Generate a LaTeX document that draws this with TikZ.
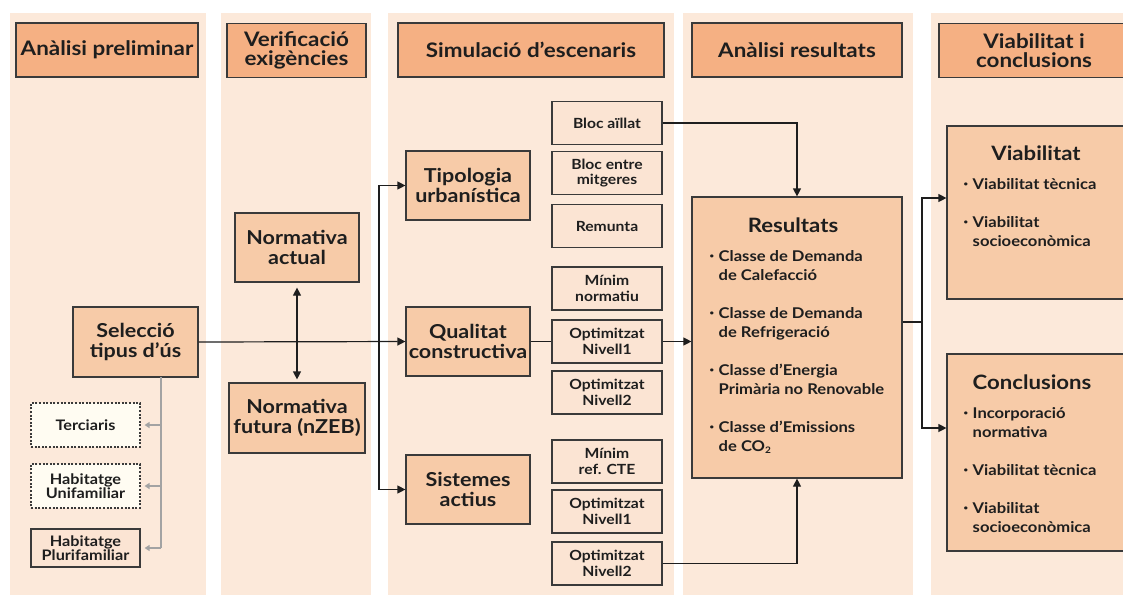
\documentclass[tikz,border=0pt]{standalone}
\usepackage{fontspec}
\setmainfont{Lato}[FakeStretch=1.12]
\usetikzlibrary{arrows.meta}
\definecolor{bgc}{HTML}{FCE9DA}
\definecolor{hdrc}{HTML}{F5B083}
\definecolor{mainc}{HTML}{F7CBA8}
\definecolor{subc}{HTML}{FBE4D3}
\definecolor{creamc}{HTML}{FFFCF2}
\definecolor{edgec}{HTML}{3A3A3A}
\definecolor{inkc}{HTML}{1E1E1E}
\definecolor{grayc}{HTML}{A3A3A3}
\newcommand\blt{\makebox[9pt][l]{\raisebox{2.4pt}{\fontsize{7}{7}\selectfont\textbullet}}}
\newcommand\bind{\hspace*{9pt}}
\begin{document}
\begin{tikzpicture}[x=1pt,y=-1pt,
  box/.style={draw=edgec, line width=1.2pt, text=inkc, align=center, inner sep=0pt},
  hdrbox/.style={box, fill=hdrc, minimum height=54pt, font=\bfseries\fontsize{20}{19}\selectfont},
  mainbox/.style={box, fill=mainc, minimum height=69pt, font=\bfseries\fontsize{19.2}{19.5}\selectfont},
  subbox/.style={box, fill=subc, minimum width=110pt, minimum height=43pt, font=\bfseries\fontsize{14}{15.5}\selectfont},
  usebox/.style={box, minimum width=109pt, font=\bfseries\fontsize{14.5}{12.5}\selectfont},
  dotbox/.style={usebox, fill=creamc, dash pattern=on 2pt off 1.6pt, line width=1.1pt, minimum height=44pt},
  titletext/.style={text=inkc, inner sep=0pt, font=\bfseries\fontsize{19.8}{19}\selectfont},
  listtext/.style={text=inkc, inner sep=0pt, align=left, anchor=north west, font=\bfseries\fontsize{14.8}{19}\selectfont},
  conn/.style={draw=inkc, line width=1.2pt},
  arr/.style={conn, -{Triangle[length=8pt,width=8pt]}},
  darr/.style={conn, {Triangle[length=8pt,width=8pt]}-{Triangle[length=8pt,width=8pt]}},
  garr/.style={draw=grayc, line width=1.6pt, -{Triangle[length=5pt,width=6pt]}, shorten >=4pt},
  gline/.style={draw=grayc, line width=1.6pt}
]
\useasboundingbox (0,0) rectangle (1123,595);
\clip (0,0) rectangle (1123,595);
% column backgrounds
\fill[bgc] (10,13) rectangle (206,595);
\fill[bgc] (221,13) rectangle (371,595);
\fill[bgc] (388,13) rectangle (674,595);
\fill[bgc] (683,13) rectangle (913,595);
\fill[bgc] (931,13) rectangle (1130,595);
% headers
\node[hdrbox, minimum width=182pt] (h1) at (107,50) {Anàlisi preliminar};
\node[hdrbox, minimum width=139pt] (h2) at (296.5,50.5) {Verificació\\exigències};
\node[hdrbox, minimum width=266pt] (h3) at (531,50) {Simulació d’escenaris};
\node[hdrbox, minimum width=210pt] (h4) at (797,50) {Anàlisi resultats};
\node[hdrbox, minimum width=190pt] (h5) at (1034,50.5) {Viabilitat i\\conclusions};
% column 1
\node[mainbox, minimum width=125pt, minimum height=70pt] (sel) at (135.5,342) {Selecció\\tipus d’ús};
\node[dotbox] (terc) at (85.5,425) {Terciaris};
\node[dotbox] (unif) at (85.5,486) {Habitatge\\Unifamiliar};
\node[usebox, fill=subc, minimum height=38pt] (pluri) at (85.5,548) {Habitatge\\Plurifamiliar};
\coordinate (gtop) at (161,377);
\draw[gline] (gtop) -- (gtop |- pluri.east);
\draw[garr] (gtop |- terc.east) -- (terc.east);
\draw[garr] (gtop |- unif.east) -- (unif.east);
\draw[garr] (gtop |- pluri.east) -- (pluri.east);
% column 2
\node[mainbox, minimum width=124pt] (nact) at (297,247.5) {Normativa\\actual};
\node[mainbox, minimum width=136pt, minimum height=70pt] (nfut) at (297,418) {Normativa\\futura (nZEB)};
\draw[darr, shorten <=5pt, shorten >=3pt] (nact.south) -- (nfut.north);
% column 3
\node[mainbox, minimum width=124pt] (tip) at (468,185.5) {Tipologia\\urbanística};
\node[mainbox, minimum width=124pt] (qual) at (468,341.5) {Qualitat\\constructiva};
\node[mainbox, minimum width=124pt] (sist) at (468,489.5) {Sistemes\\actius};
\node[subbox] (s1) at (607,123) {Bloc aïllat};
\node[subbox] (s2) at (607,173) {Bloc entre\\mitgeres};
\node[subbox] (s3) at (607,226) {Remunta};
\node[subbox] (s4) at (607,288.5) {Mínim\\normatiu};
\node[subbox] (s5) at (607,341.5) {Optimitzat\\Nivell1};
\node[subbox] (s6) at (607,392.5) {Optimitzat\\Nivell2};
\node[subbox] (s7) at (607,461.5) {Mínim\\ref. CTE};
\node[subbox] (s8) at (607,511.5) {Optimitzat\\Nivell1};
\node[subbox] (s9) at (607,563.5) {Optimitzat\\Nivell2};
% connectors column 1-3
\draw[arr] (sel.east) -- (qual.west);
\coordinate (br) at (379,342);
\draw[arr] (br) |- (tip.west);
\draw[arr] (br) |- (sist.west);
\draw[conn] (qual.east) -- (s5.west);
% column 4
\node[box, fill=mainc, minimum width=210pt, minimum height=281pt] (res) at (797,337.5) {};
\node[titletext] (resT) at (793,225) {Resultats};
\node[listtext] (resL) at (709.5,250) {\blt Classe de Demanda\\\bind de Calefacció\\[19pt]%
\blt Classe de Demanda\\\bind de Refrigeració\\[19pt]%
\blt Classe d’Energia\\\bind Primària no Renovable\\[19pt]%
\blt Classe d’Emissions\\\bind de CO\textsubscript{\fontsize{9}{9}\selectfont 2}};
\draw[arr] (s5.east) -- (s5.east -| res.west);
\draw[arr] (s1.east) -| (res.north);
\draw[arr] (s9.east) -| (res.south);
% column 5
\node[box, fill=mainc, minimum width=180pt, minimum height=173pt] (via) at (1037,212.5) {};
\node[titletext] (viaT) at (1036,153) {Viabilitat};
\node[listtext] (viaL) at (963.5,178) {\blt Viabilitat tècnica\\[19pt]%
\blt Viabilitat\\\bind socioeconòmica};
\node[box, fill=mainc, minimum width=180pt, minimum height=197pt] (con) at (1037,452.5) {};
\node[titletext] (conT) at (1032,382) {Conclusions};
\node[listtext] (conL) at (963.5,407) {\blt Incorporació\\\bind normativa\\[19pt]%
\blt Viabilitat tècnica\\[19pt]%
\blt Viabilitat\\\bind socioeconòmica};
\coordinate (rj) at (922,322);
\coordinate (ra) at (922,198);
\coordinate (rb) at (922,428);
\draw[conn] (res.east |- rj) -- (rj);
\draw[arr] (rj) -- (ra) -- (ra -| via.west);
\draw[arr] (rj) -- (rb) -- (rb -| con.west);
\end{tikzpicture}
\end{document}
